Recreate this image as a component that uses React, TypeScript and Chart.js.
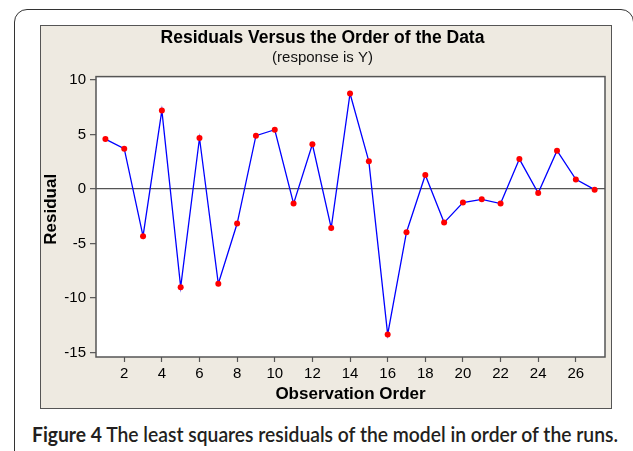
import React, { useEffect, useLayoutEffect, useRef } from "react";
import { Chart, registerables } from "chart.js";

Chart.register(...registerables);

// ---- data ----
const observationOrder = [1, 2, 3, 4, 5, 6, 7, 8, 9, 10, 11, 12, 13, 14, 15, 16, 17, 18, 19, 20, 21, 22, 23, 24, 25, 26, 27];
const residuals = [4.57, 3.69, -4.33, 7.2, -9.0, 4.67, -8.69, -3.17, 4.88, 5.43, -1.34, 4.09, -3.57, 8.75, 2.53, -13.33, -3.96, 1.28, -3.08, -1.25, -0.95, -1.34, 2.74, -0.37, 3.51, 0.88, -0.06];
const xTickValues = [2, 4, 6, 8, 10, 12, 14, 16, 18, 20, 22, 24, 26];
const yTickValues = [-15, -10, -5, 0, 5, 10];
const xRange = [0.5, 27.55];
const yRange = [-15.4, 10.3];

const titleText = "Residuals Versus the Order of the Data";
const subtitleText = "(response is Y)";
const xAxisTitle = "Observation Order";
const yAxisTitle = "Residual";
const captionLabel = "Figure 4";
const captionText = "The least squares residuals of the model in order of the runs.";

const FONT = "'Liberation Sans', Arial, Helvetica, sans-serif";

const framePlugin = {
  id: "frame",
  beforeDraw(chart: any) {
    const { ctx, chartArea: a } = chart;
    ctx.save();
    ctx.fillStyle = "#ffffff";
    ctx.fillRect(a.left, a.top, a.right - a.left, a.bottom - a.top);
    ctx.restore();
  },
  beforeDatasetsDraw(chart: any) {
    const { ctx, chartArea: a } = chart;
    ctx.save();
    ctx.strokeStyle = "#555555";
    ctx.lineWidth = 1.5;
    ctx.strokeRect(a.left, a.top, a.right - a.left, a.bottom - a.top);
    ctx.restore();
  },
  afterDraw(chart: any) {
    // y-axis title, placed slightly above the plot centre as in the original
    const { ctx, chartArea: a } = chart;
    ctx.save();
    ctx.translate(11.2, (a.top + a.bottom) / 2 - 7.5);
    ctx.rotate(-Math.PI / 2);
    ctx.fillStyle = "#000";
    ctx.font = `bold 17px ${FONT}`;
    ctx.textAlign = "center";
    ctx.textBaseline = "middle";
    ctx.fillText(yAxisTitle, 0, 0);
    ctx.restore();
  },
};

function ResidualChart() {
  const ref = useRef<HTMLCanvasElement | null>(null);
  useEffect(() => {
    if (!ref.current) return;
    const points = observationOrder.map((x, i) => ({ x, y: residuals[i] }));
    const chart = new Chart(ref.current, {
      type: "line",
      data: {
        datasets: [
          {
            data: points,
            borderColor: "#0000ff",
            borderWidth: 1.3,
            tension: 0,
            pointRadius: 3,
            pointHoverRadius: 3,
            pointBackgroundColor: "#ff0000",
            pointBorderWidth: 0,
            pointBorderColor: "#ff0000",
          },
        ],
      },
      options: {
        animation: false,
        responsive: false,
        maintainAspectRatio: false,
        events: [],
        layout: { padding: { left: 0, right: 7, top: 0, bottom: 0 } },
        plugins: {
          legend: { display: false },
          tooltip: { enabled: false },
          title: {
            display: true,
            text: titleText,
            color: "#000",
            font: { family: FONT, size: 17.5, weight: "bold" },
            padding: { top: 3, bottom: 0 },
          },
          subtitle: {
            display: true,
            text: subtitleText,
            color: "#111",
            font: { family: FONT, size: 15 },
            padding: { top: 0, bottom: 9.6 },
          },
        },
        scales: {
          x: {
            type: "linear",
            min: xRange[0],
            max: xRange[1],
            afterBuildTicks: (axis: any) => {
              axis.ticks = xTickValues.map((v) => ({ value: v }));
            },
            afterFit: (axis: any) => {
              axis.height = 52;
            },
            ticks: {
              color: "#000",
              font: { family: FONT, size: 15 },
              padding: 3,
              maxRotation: 0,
              autoSkip: false,
              callback: (v: any) => String(v),
            },
            grid: {
              drawOnChartArea: false,
              tickLength: 5,
              tickColor: "#555",
              tickWidth: 1.2,
            },
            border: { display: false },
            title: {
              display: true,
              text: xAxisTitle,
              color: "#000",
              font: { family: FONT, size: 17, weight: "bold" },
              padding: { top: 0, bottom: 4.8 },
            },
          },
          y: {
            type: "linear",
            min: yRange[0],
            max: yRange[1],
            afterBuildTicks: (axis: any) => {
              axis.ticks = yTickValues.map((v) => ({ value: v }));
            },
            afterFit: (axis: any) => {
              axis.width = 56;
            },
            ticks: {
              color: "#000",
              font: { family: FONT, size: 15 },
              padding: 4,
              autoSkip: false,
              callback: (v: any) => String(v),
            },
            grid: {
              color: (c: any) => (c.tick && c.tick.value === 0 ? "#555555" : "rgba(0,0,0,0)"),
              lineWidth: 1.3,
              tickLength: 6,
              tickColor: "#555",
              tickWidth: 1.2,
            },
            border: { display: false },
            title: { display: false },
          },
        },
      },
      plugins: [framePlugin],
    } as any);
    return () => chart.destroy();
  }, []);
  return (
    <canvas
      ref={ref}
      width={572}
      height={384}
      style={{ position: "absolute", left: 40, top: 25, width: 572, height: 384 }}
    />
  );
}

export default function App() {
  const capRef = useRef<HTMLDivElement | null>(null);
  useLayoutEffect(() => {
    const fit = () => {
      const el = capRef.current;
      if (!el) return;
      el.style.transform = "none";
      const w = el.getBoundingClientRect().width;
      if (w > 0) el.style.transform = `scaleX(${586 / w})`;
    };
    fit();
    if ((document as any).fonts && (document as any).fonts.ready) {
      (document as any).fonts.ready.then(fit);
    }
  }, []);

  return (
    <div
      style={{
        position: "fixed",
        left: 0,
        top: 0,
        width: 633,
        height: 451,
        overflow: "hidden",
        background: "#ffffff",
      }}
    >
      <div
        style={{
          position: "absolute",
          left: 14,
          top: 9,
          width: 620,
          height: 470,
          boxSizing: "border-box",
          border: "1.5px solid #333",
          borderRadius: 13,
        }}
      />
      <div
        style={{
          position: "absolute",
          left: 40,
          top: 25,
          width: 572,
          height: 384,
          boxSizing: "border-box",
          background: "#eeeae1",
          border: "1.5px solid #555",
        }}
      />
      <ResidualChart />
      <div
        ref={capRef}
        style={{
          position: "absolute",
          left: 31.7,
          top: 421,
          whiteSpace: "nowrap",
          transformOrigin: "0 0",
          fontFamily: "Lato, 'Open Sans', sans-serif",
          fontSize: 21,
          lineHeight: 1.2,
          color: "#231f20",
          display: "inline-block",
        }}
      >
        <span style={{ fontWeight: 700 }}>{captionLabel}</span>
        <span style={{ fontWeight: 600 }}> {captionText}</span>
      </div>
    </div>
  );
}
